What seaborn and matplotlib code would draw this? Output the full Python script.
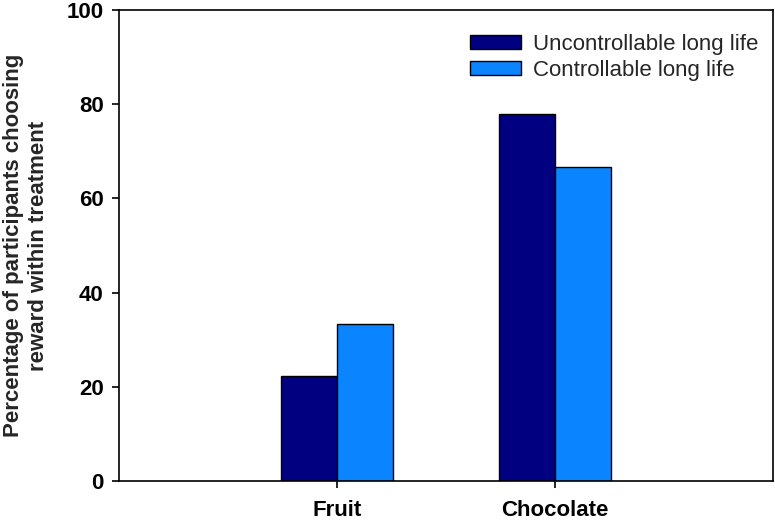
import pandas as pd
import seaborn as sns
import matplotlib.pyplot as plt

# Data
rewards = ['Fruit', 'Chocolate']
treatments = ['Uncontrollable long life', 'Controllable long life']
uncontrollable = [22.2, 77.8]
controllable = [33.3, 66.7]
colors = ['#000080', '#0A84FF']

df = pd.DataFrame({
    'reward': rewards * 2,
    'treatment': [treatments[0]] * 2 + [treatments[1]] * 2,
    'pct': uncontrollable + controllable,
})

sns.set_style('ticks')
plt.rcParams['font.family'] = ['Liberation Sans', 'DejaVu Sans']

fig = plt.figure(figsize=(7.75, 5.21), dpi=100)
ax = fig.add_axes([0.1535, 0.0768, 0.8439, 0.9042])

sns.barplot(data=df, x='reward', y='pct', hue='treatment', order=rewards,
            hue_order=treatments, palette=colors, width=0.515,
            edgecolor='black', linewidth=1, saturation=1, ax=ax)

ax.set_xlim(-1, 2)
ax.set_ylim(0, 100)
ax.set_yticks([0, 20, 40, 60, 80, 100])
ax.set_xlabel('')
ax.set_ylabel('Percentage of participants choosing\nreward within treatment',
              fontsize=16, fontweight='bold', labelpad=13)
for s in ax.spines.values():
    s.set_linewidth(1.2)
    s.set_color('black')
ax.tick_params(axis='both', direction='out', length=5, width=1.2,
               labelsize=16, colors='black', pad=6)
ax.tick_params(axis='x', pad=9)
for lab in ax.get_xticklabels() + ax.get_yticklabels():
    lab.set_fontweight('bold')

ax.legend(loc='upper left', bbox_to_anchor=(0.519, 0.972), frameon=False,
          fontsize=16, borderpad=0, handlelength=2.3, handleheight=0.6,
          handletextpad=0.55, labelspacing=0.2)

fig.savefig('out.png', dpi=100)
